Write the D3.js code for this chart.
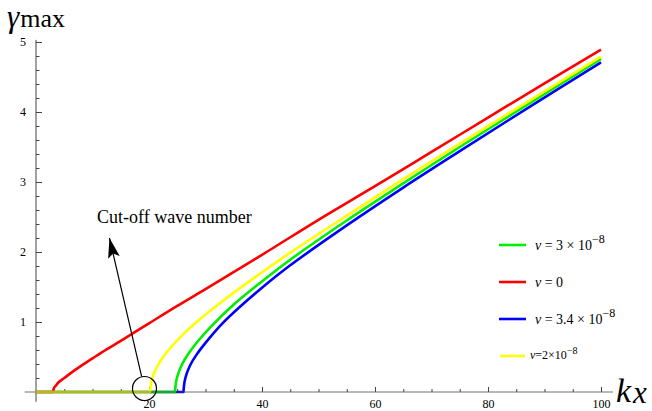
<!DOCTYPE html>
<html>
<head>
<meta charset="utf-8">
<script src="https://cdn.jsdelivr.net/npm/d3@7"></script>
<style>
  body { margin: 0; background: #fff; }
</style>
</head>
<body>
<div id="chart"></div>
<script>
// growth rate curves
var redK = [0, 3, 3.2, 3.5, 4, 5, 7, 10, 12.5, 15, 20, 25, 30, 40, 50, 60, 70, 80, 90, 100];
var redG = [0, 0, 0.06, 0.09, 0.14, 0.2, 0.32, 0.48, 0.61, 0.73, 0.98, 1.23, 1.47, 1.96, 2.46, 2.94, 3.43, 3.92, 4.41, 4.89];

var yellowK = [0, 20.2, 20.4, 20.8, 21.5, 22.5, 24, 26, 28, 31, 35, 40, 45, 55, 65, 75, 87.5, 100];
var yellowG = [0, 0, 0.14, 0.25, 0.37, 0.5, 0.65, 0.82, 0.97, 1.17, 1.42, 1.71, 1.99, 2.52, 3.04, 3.55, 4.17, 4.79];

var greenK = [0, 24.6, 24.8, 25.2, 26, 27, 28.5, 30.8, 35, 40, 45, 55, 65, 75, 87.5, 100];
var greenG = [0, 0, 0.15, 0.27, 0.42, 0.55, 0.71, 0.92, 1.25, 1.58, 1.89, 2.45, 2.98, 3.5, 4.13, 4.76];

var blueK = [0, 26.1, 26.3, 26.7, 27.4, 28.3, 29.3, 30.8, 33, 36, 40, 45, 55, 65, 75, 87.5, 100];
var blueG = [0, 0, 0.15, 0.27, 0.4, 0.52, 0.63, 0.78, 0.98, 1.21, 1.49, 1.81, 2.38, 2.92, 3.44, 4.08, 4.71];

var xMajor = [20, 40, 60, 80, 100];
var yMajor = [1, 2, 3, 4, 5];

// cut-off annotation (data coords)
var cutK = 19.2, cutG = 0.05;
var arrowFrom = [18.7, 0.22], arrowTo = [13.0, 2.2];
var noteText = "Cut-off wave number";

var w = 652;
var h = 411;
var serif = "'Liberation Serif', 'Times New Roman', serif";

var x = d3.scaleLinear().domain([0, 100]).range([36, 601]);
var y = d3.scaleLinear().domain([0, 5]).range([392, 42]);

var svg = d3.select("#chart").append("svg")
  .attr("width", w).attr("height", h)
  .attr("font-family", serif);

svg.append("defs").append("marker")
  .attr("id", "head")
  .attr("viewBox", "0 0 20 12")
  .attr("refX", 20).attr("refY", 6)
  .attr("markerWidth", 20).attr("markerHeight", 12)
  .attr("markerUnits", "userSpaceOnUse")
  .attr("orient", "auto")
  .append("path").attr("d", "M0,0 L20,6 L0,12 L4,6 Z").attr("fill", "#000");

// axes (Mathematica style, ticks inside)
var axisColor = "#444";
var xMinor = svg.append("g").attr("transform", "translate(0," + y(0) + ")")
  .call(d3.axisBottom(x).tickValues(d3.range(5, 101, 5)).tickSizeInner(-3).tickSizeOuter(0).tickFormat(""));
var xMaj = svg.append("g").attr("transform", "translate(0," + y(0) + ")")
  .call(d3.axisBottom(x).tickValues(xMajor).tickSizeInner(-5).tickSizeOuter(0).tickPadding(7).tickFormat(d3.format("d")));
var yMinor = svg.append("g").attr("transform", "translate(" + x(0) + ",0)")
  .call(d3.axisLeft(y).tickValues(d3.range(0.2, 5.01, 0.2)).tickSizeInner(-3.5).tickSizeOuter(0).tickFormat(""));
var yMaj = svg.append("g").attr("transform", "translate(" + x(0) + ",0)")
  .call(d3.axisLeft(y).tickValues(yMajor).tickSizeInner(-6).tickSizeOuter(0).tickPadding(10).tickFormat(d3.format("d")));

[xMinor, xMaj, yMinor, yMaj].forEach(function (g) {
  g.attr("font-family", serif).attr("font-size", 12);
  g.select(".domain").remove();
  g.selectAll("line").attr("stroke", axisColor);
  g.selectAll("text").attr("fill", "#000");
});

// vertical axis line
svg.append("line")
  .attr("x1", x(0)).attr("x2", x(0))
  .attr("y1", y(5.03)).attr("y2", y(-0.14))
  .attr("stroke", axisColor).attr("stroke-width", 1);

var flat = d3.line()
  .x(function (d) { return x(d[0]); })
  .y(function (d) { return y(d[1]); });
var smooth = d3.line()
  .x(function (d) { return x(d[0]); })
  .y(function (d) { return y(d[1]); })
  .curve(d3.curveCatmullRom.alpha(0.5));

// flat part straight, rising part smooth
function curvePath(s) {
  var pts = d3.zip(s.k, s.g);
  var i = 0;
  while (i < pts.length - 1 && pts[i + 1][1] === 0) i++;
  return flat(pts.slice(0, i + 1)) + smooth(pts.slice(i)).replace(/^M/, "L");
}

var series = [
  { k: blueK, g: blueG, c: "#0000ff" },
  { k: greenK, g: greenG, c: "#00ee00" },
  { k: redK, g: redG, c: "#ff0000" },
  { k: yellowK, g: yellowG, c: "#ffff00" }
];

svg.selectAll("path.curve")
  .data(series)
  .enter()
  .append("path")
  .attr("class", "curve")
  .attr("d", curvePath)
  .attr("fill", "none")
  .attr("stroke", function (s) { return s.c; })
  .attr("stroke-width", 2.6)
  .attr("stroke-linejoin", "round");

// horizontal axis line drawn over the flat parts
svg.append("line")
  .attr("x1", x(-2)).attr("x2", x(102.1))
  .attr("y1", y(0)).attr("y2", y(0))
  .attr("stroke", axisColor).attr("stroke-width", 1.2).attr("opacity", 0.75);

// axis labels
var yl = svg.append("text").attr("x", 7).attr("y", 27);
yl.append("tspan").text("γ").attr("font-style", "italic").attr("font-size", 31);
yl.append("tspan").text("max").attr("dx", 1).attr("font-size", 26);

var xl = svg.append("text").attr("x", 616).attr("y", 402);
xl.append("tspan").text("k").attr("font-style", "italic").attr("font-size", 34);
xl.append("tspan").text("x").attr("dx", 2).attr("dy", 1).attr("font-style", "italic").attr("font-size", 31);

// annotation
svg.append("circle")
  .attr("cx", x(cutK)).attr("cy", y(cutG)).attr("r", 12)
  .attr("fill", "none").attr("stroke", "#000").attr("stroke-width", 1.2);

svg.append("line")
  .attr("x1", x(arrowFrom[0])).attr("y1", y(arrowFrom[1]))
  .attr("x2", x(arrowTo[0])).attr("y2", y(arrowTo[1]))
  .attr("stroke", "#000").attr("stroke-width", 1.2)
  .attr("marker-end", "url(#head)");

svg.append("text")
  .attr("x", x(10.8)).attr("y", y(2.41))
  .attr("font-size", 18)
  .text(noteText);

// legend
var legendItems = [
  { c: "#00ee00", base: "3", exp: true, y: 245 },
  { c: "#ff0000", base: "0", exp: false, y: 282 },
  { c: "#0000ff", base: "3.4", exp: true, y: 319 }
];

var lg = svg.append("g");
legendItems.forEach(function (d) {
  lg.append("line").attr("x1", 499).attr("x2", 526).attr("y1", d.y).attr("y2", d.y)
    .attr("stroke", d.c).attr("stroke-width", 2.6);
  var t = lg.append("text").attr("x", 535).attr("y", d.y + 5).attr("font-size", 14);
  t.append("tspan").text("ν").attr("font-style", "italic");
  t.append("tspan").text(" = " + d.base + (d.exp ? " × 10" : ""));
  if (d.exp) t.append("tspan").text("−8").attr("dy", -7).attr("font-size", 12);
});

lg.append("line").attr("x1", 500).attr("x2", 525).attr("y1", 356).attr("y2", 356)
  .attr("stroke", "#ffff00").attr("stroke-width", 2.6);
var ty = lg.append("text").attr("x", 530).attr("y", 359).attr("font-size", 12);
ty.append("tspan").text("ν").attr("font-style", "italic");
ty.append("tspan").text("=2×10");
ty.append("tspan").text("−8").attr("dy", -5).attr("font-size", 10);
</script>
</body>
</html>
